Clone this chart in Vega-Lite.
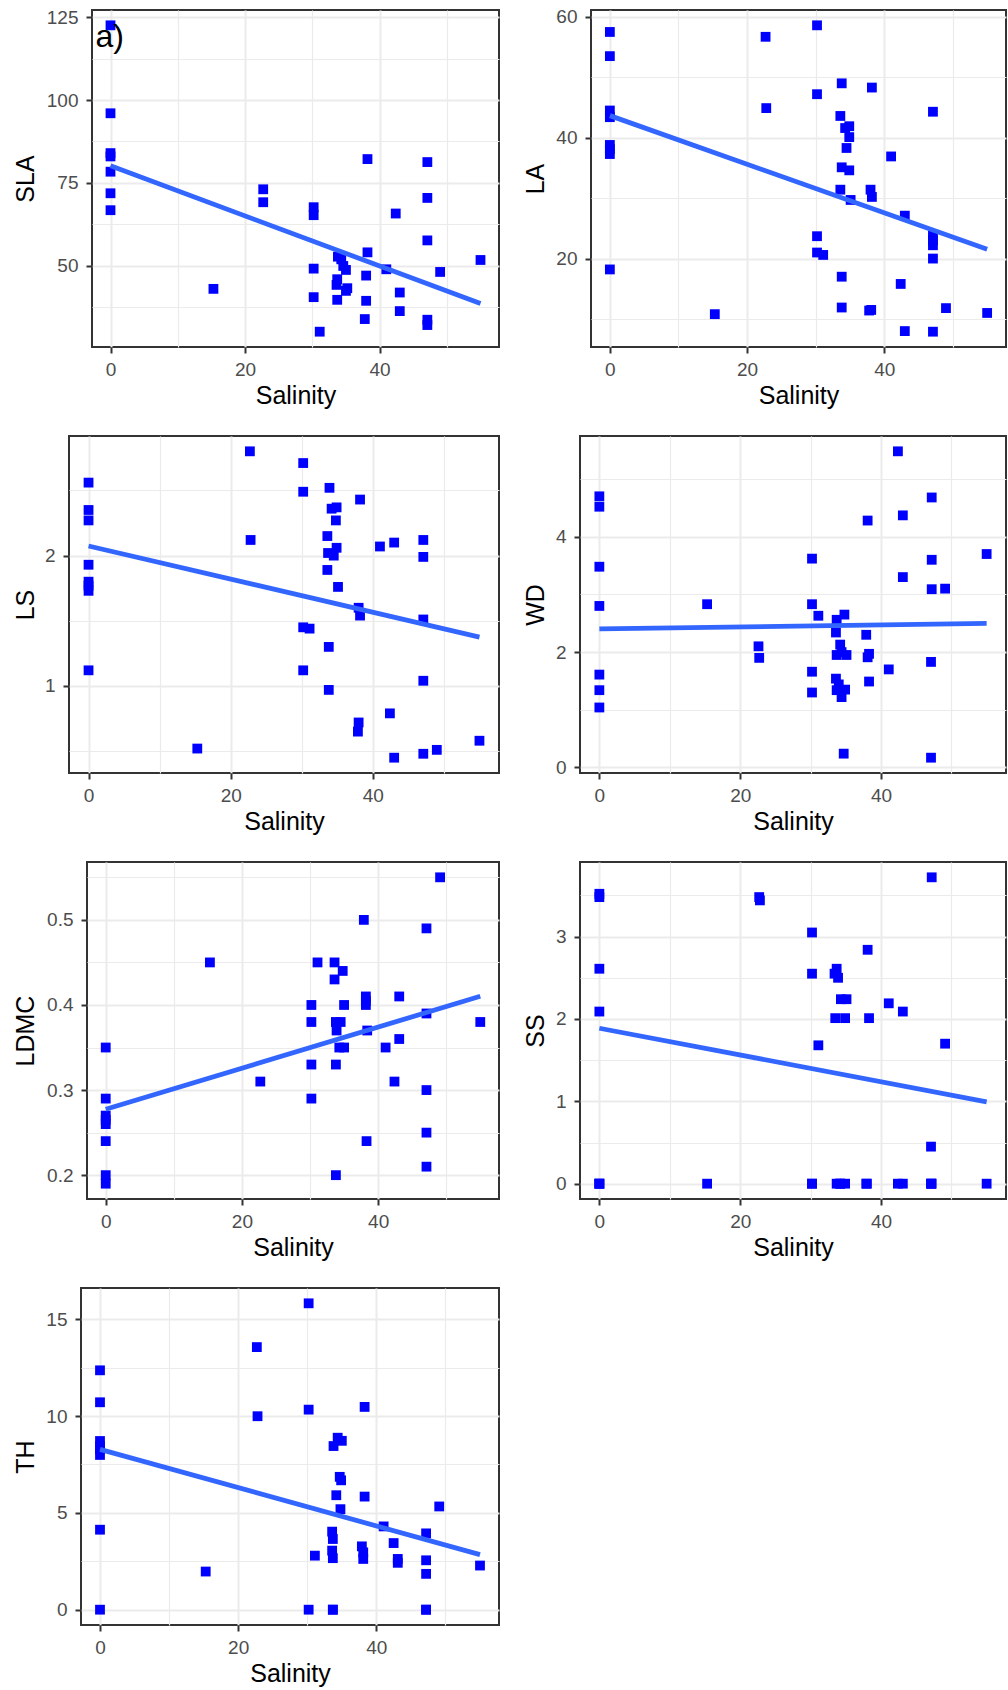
{
  "$schema": "https://vega.github.io/schema/vega-lite/v6.json",
  "padding": {"left": 0, "top": 6, "right": 0, "bottom": 0},
  "background": "white",
  "datasets": {
    "d": [
      {"t":"SLA","s":0,"v":122.5},{"t":"SLA","s":0,"v":96.0},{"t":"SLA","s":0,"v":84.0},{"t":"SLA","s":0,"v":83.0},{"t":"SLA","s":0,"v":78.4},{"t":"SLA","s":0,"v":71.9},{"t":"SLA","s":0,"v":66.8},
      {"t":"SLA","s":15.3,"v":43.1},{"t":"SLA","s":22.7,"v":73.1},{"t":"SLA","s":22.7,"v":69.2},
      {"t":"SLA","s":30.2,"v":67.7},{"t":"SLA","s":30.2,"v":65.3},{"t":"SLA","s":30.2,"v":49.2},{"t":"SLA","s":30.2,"v":40.6},{"t":"SLA","s":31.1,"v":30.2},
      {"t":"SLA","s":33.8,"v":52.8},{"t":"SLA","s":34.3,"v":52.0},{"t":"SLA","s":34.6,"v":50.0},{"t":"SLA","s":35.0,"v":48.8},{"t":"SLA","s":33.7,"v":46.0},{"t":"SLA","s":33.6,"v":44.3},{"t":"SLA","s":35.2,"v":43.3},{"t":"SLA","s":35.0,"v":42.5},{"t":"SLA","s":33.7,"v":39.8},
      {"t":"SLA","s":38.2,"v":82.2},{"t":"SLA","s":38.2,"v":54.1},{"t":"SLA","s":38.0,"v":47.1},{"t":"SLA","s":38.0,"v":39.5},{"t":"SLA","s":37.8,"v":34.0},
      {"t":"SLA","s":41.0,"v":49.0},{"t":"SLA","s":42.4,"v":65.8},{"t":"SLA","s":43.0,"v":42.0},{"t":"SLA","s":43.0,"v":36.4},
      {"t":"SLA","s":47.1,"v":81.3},{"t":"SLA","s":47.1,"v":70.5},{"t":"SLA","s":47.1,"v":57.7},{"t":"SLA","s":47.1,"v":33.8},{"t":"SLA","s":47.1,"v":32.2},
      {"t":"SLA","s":49.0,"v":48.2},{"t":"SLA","s":55.0,"v":51.8},

      {"t":"LA","s":0,"v":57.5},{"t":"LA","s":0,"v":53.5},{"t":"LA","s":0,"v":44.5},{"t":"LA","s":0,"v":43.4},{"t":"LA","s":0,"v":38.8},{"t":"LA","s":0,"v":38.1},{"t":"LA","s":0,"v":37.3},{"t":"LA","s":0,"v":18.2},
      {"t":"LA","s":15.3,"v":10.8},{"t":"LA","s":22.7,"v":56.7},{"t":"LA","s":22.8,"v":44.9},
      {"t":"LA","s":30.2,"v":58.6},{"t":"LA","s":30.2,"v":47.2},{"t":"LA","s":30.2,"v":23.7},{"t":"LA","s":30.2,"v":21.0},{"t":"LA","s":31.1,"v":20.6},
      {"t":"LA","s":33.8,"v":49.0},{"t":"LA","s":33.6,"v":43.6},{"t":"LA","s":34.3,"v":41.6},{"t":"LA","s":34.9,"v":41.9},{"t":"LA","s":34.9,"v":40.1},{"t":"LA","s":34.5,"v":38.3},{"t":"LA","s":33.8,"v":35.1},{"t":"LA","s":34.9,"v":34.6},{"t":"LA","s":33.6,"v":31.4},{"t":"LA","s":35.1,"v":29.7},{"t":"LA","s":33.8,"v":17.0},{"t":"LA","s":33.8,"v":11.9},
      {"t":"LA","s":38.2,"v":48.3},{"t":"LA","s":38.0,"v":31.4},{"t":"LA","s":38.2,"v":30.2},{"t":"LA","s":37.8,"v":11.4},{"t":"LA","s":38.1,"v":11.5},
      {"t":"LA","s":41.0,"v":36.9},{"t":"LA","s":42.4,"v":15.8},{"t":"LA","s":43.0,"v":27.1},{"t":"LA","s":43.0,"v":8.0},
      {"t":"LA","s":47.1,"v":44.3},{"t":"LA","s":47.1,"v":23.8},{"t":"LA","s":47.1,"v":23.0},{"t":"LA","s":47.1,"v":22.2},{"t":"LA","s":47.1,"v":20.0},{"t":"LA","s":47.1,"v":7.9},
      {"t":"LA","s":49.0,"v":11.8},{"t":"LA","s":55.0,"v":11.0},

      {"t":"LS","s":0,"v":2.56},{"t":"LS","s":0,"v":2.35},{"t":"LS","s":0,"v":2.27},{"t":"LS","s":0,"v":1.93},{"t":"LS","s":0,"v":1.80},{"t":"LS","s":0,"v":1.77},{"t":"LS","s":0,"v":1.73},{"t":"LS","s":0,"v":1.12},
      {"t":"LS","s":15.3,"v":0.52},{"t":"LS","s":22.7,"v":2.80},{"t":"LS","s":22.8,"v":2.12},
      {"t":"LS","s":30.2,"v":2.71},{"t":"LS","s":30.2,"v":2.49},{"t":"LS","s":30.2,"v":1.45},{"t":"LS","s":30.2,"v":1.12},{"t":"LS","s":31.1,"v":1.44},
      {"t":"LS","s":33.9,"v":2.52},{"t":"LS","s":34.2,"v":2.36},{"t":"LS","s":34.9,"v":2.37},{"t":"LS","s":34.8,"v":2.27},{"t":"LS","s":33.6,"v":2.15},{"t":"LS","s":34.9,"v":2.06},{"t":"LS","s":33.7,"v":2.02},{"t":"LS","s":34.5,"v":2.00},{"t":"LS","s":33.6,"v":1.89},{"t":"LS","s":35.1,"v":1.76},{"t":"LS","s":33.8,"v":1.30},{"t":"LS","s":33.8,"v":0.97},
      {"t":"LS","s":38.2,"v":2.43},{"t":"LS","s":38.0,"v":1.60},{"t":"LS","s":38.2,"v":1.54},{"t":"LS","s":38.0,"v":0.72},{"t":"LS","s":37.9,"v":0.65},
      {"t":"LS","s":41.0,"v":2.07},{"t":"LS","s":42.4,"v":0.79},{"t":"LS","s":43.0,"v":2.10},{"t":"LS","s":43.0,"v":0.45},
      {"t":"LS","s":47.1,"v":2.12},{"t":"LS","s":47.1,"v":1.99},{"t":"LS","s":47.1,"v":1.51},{"t":"LS","s":47.1,"v":1.04},{"t":"LS","s":47.1,"v":0.48},
      {"t":"LS","s":49.0,"v":0.51},{"t":"LS","s":55.0,"v":0.58},

      {"t":"WD","s":0,"v":4.70},{"t":"WD","s":0,"v":4.52},{"t":"WD","s":0,"v":3.48},{"t":"WD","s":0,"v":2.80},{"t":"WD","s":0,"v":1.61},{"t":"WD","s":0,"v":1.34},{"t":"WD","s":0,"v":1.04},
      {"t":"WD","s":15.3,"v":2.83},{"t":"WD","s":22.6,"v":2.10},{"t":"WD","s":22.7,"v":1.90},
      {"t":"WD","s":30.2,"v":3.62},{"t":"WD","s":30.2,"v":2.83},{"t":"WD","s":30.2,"v":1.66},{"t":"WD","s":30.2,"v":1.30},{"t":"WD","s":31.1,"v":2.63},
      {"t":"WD","s":33.7,"v":2.56},{"t":"WD","s":34.8,"v":2.65},{"t":"WD","s":33.6,"v":2.34},{"t":"WD","s":34.2,"v":2.13},{"t":"WD","s":33.7,"v":1.95},{"t":"WD","s":35.1,"v":1.95},{"t":"WD","s":34.4,"v":2.0},{"t":"WD","s":33.6,"v":1.54},{"t":"WD","s":34.0,"v":1.44},{"t":"WD","s":33.7,"v":1.34},{"t":"WD","s":34.9,"v":1.35},{"t":"WD","s":34.4,"v":1.22},{"t":"WD","s":34.7,"v":0.24},
      {"t":"WD","s":38.1,"v":4.28},{"t":"WD","s":37.9,"v":2.30},{"t":"WD","s":38.3,"v":1.97},{"t":"WD","s":38.1,"v":1.91},{"t":"WD","s":38.3,"v":1.49},
      {"t":"WD","s":41.1,"v":1.70},{"t":"WD","s":42.4,"v":5.48},{"t":"WD","s":43.1,"v":4.37},{"t":"WD","s":43.1,"v":3.30},
      {"t":"WD","s":47.2,"v":4.68},{"t":"WD","s":47.2,"v":3.60},{"t":"WD","s":47.2,"v":3.09},{"t":"WD","s":47.1,"v":1.83},{"t":"WD","s":47.1,"v":0.17},
      {"t":"WD","s":49.1,"v":3.10},{"t":"WD","s":55.0,"v":3.70},

      {"t":"LDMC","s":0,"v":0.35},{"t":"LDMC","s":0,"v":0.29},{"t":"LDMC","s":0,"v":0.27},{"t":"LDMC","s":0,"v":0.265},{"t":"LDMC","s":0,"v":0.26},{"t":"LDMC","s":0,"v":0.24},{"t":"LDMC","s":0,"v":0.20},{"t":"LDMC","s":0,"v":0.19},
      {"t":"LDMC","s":15.3,"v":0.45},{"t":"LDMC","s":22.7,"v":0.31},
      {"t":"LDMC","s":30.2,"v":0.40},{"t":"LDMC","s":30.2,"v":0.38},{"t":"LDMC","s":30.2,"v":0.33},{"t":"LDMC","s":30.2,"v":0.29},{"t":"LDMC","s":31.1,"v":0.45},
      {"t":"LDMC","s":33.6,"v":0.45},{"t":"LDMC","s":33.6,"v":0.43},{"t":"LDMC","s":34.8,"v":0.44},{"t":"LDMC","s":35.0,"v":0.40},{"t":"LDMC","s":33.8,"v":0.38},{"t":"LDMC","s":34.5,"v":0.38},{"t":"LDMC","s":33.9,"v":0.37},{"t":"LDMC","s":34.3,"v":0.35},{"t":"LDMC","s":35.0,"v":0.35},{"t":"LDMC","s":33.8,"v":0.33},{"t":"LDMC","s":33.8,"v":0.20},
      {"t":"LDMC","s":37.9,"v":0.50},{"t":"LDMC","s":38.2,"v":0.41},{"t":"LDMC","s":38.2,"v":0.405},{"t":"LDMC","s":38.2,"v":0.40},{"t":"LDMC","s":38.4,"v":0.37},{"t":"LDMC","s":38.3,"v":0.24},
      {"t":"LDMC","s":41.1,"v":0.35},{"t":"LDMC","s":42.4,"v":0.31},{"t":"LDMC","s":43.1,"v":0.41},{"t":"LDMC","s":43.1,"v":0.36},
      {"t":"LDMC","s":47.1,"v":0.49},{"t":"LDMC","s":47.1,"v":0.39},{"t":"LDMC","s":47.1,"v":0.30},{"t":"LDMC","s":47.1,"v":0.25},{"t":"LDMC","s":47.1,"v":0.21},
      {"t":"LDMC","s":49.1,"v":0.55},{"t":"LDMC","s":55.0,"v":0.38},

      {"t":"SS","s":0,"v":3.52},{"t":"SS","s":0,"v":3.48},{"t":"SS","s":0,"v":2.61},{"t":"SS","s":0,"v":2.09},{"t":"SS","s":0,"v":0},{"t":"SS","s":0,"v":0},{"t":"SS","s":0,"v":0},
      {"t":"SS","s":15.3,"v":0},{"t":"SS","s":22.7,"v":3.48},{"t":"SS","s":22.8,"v":3.44},
      {"t":"SS","s":30.2,"v":3.05},{"t":"SS","s":30.2,"v":2.55},{"t":"SS","s":30.2,"v":0},{"t":"SS","s":30.2,"v":0},{"t":"SS","s":31.1,"v":1.68},
      {"t":"SS","s":33.7,"v":2.61},{"t":"SS","s":33.4,"v":2.55},{"t":"SS","s":33.9,"v":2.50},{"t":"SS","s":34.3,"v":2.24},{"t":"SS","s":35.1,"v":2.24},{"t":"SS","s":33.5,"v":2.01},{"t":"SS","s":34.9,"v":2.01},{"t":"SS","s":33.7,"v":0},{"t":"SS","s":34.2,"v":0},{"t":"SS","s":34.2,"v":0},{"t":"SS","s":34.9,"v":0},
      {"t":"SS","s":38.1,"v":2.84},{"t":"SS","s":38.3,"v":2.01},{"t":"SS","s":37.9,"v":0},{"t":"SS","s":38.0,"v":0},
      {"t":"SS","s":41.1,"v":2.19},{"t":"SS","s":43.1,"v":2.09},{"t":"SS","s":42.4,"v":0},{"t":"SS","s":43.1,"v":0},
      {"t":"SS","s":47.2,"v":3.72},{"t":"SS","s":47.1,"v":0.45},{"t":"SS","s":47.2,"v":0},{"t":"SS","s":47.1,"v":0},{"t":"SS","s":47.1,"v":0},
      {"t":"SS","s":49.1,"v":1.70},{"t":"SS","s":55.0,"v":0},

      {"t":"TH","s":0,"v":12.36},{"t":"TH","s":0,"v":10.71},{"t":"TH","s":0,"v":8.71},{"t":"TH","s":0,"v":8.45},{"t":"TH","s":0,"v":8.28},{"t":"TH","s":0,"v":7.99},{"t":"TH","s":0,"v":4.13},{"t":"TH","s":0,"v":0},
      {"t":"TH","s":15.3,"v":1.97},{"t":"TH","s":22.7,"v":13.56},{"t":"TH","s":22.8,"v":9.99},
      {"t":"TH","s":30.2,"v":15.82},{"t":"TH","s":30.2,"v":10.33},{"t":"TH","s":30.2,"v":0},{"t":"TH","s":31.1,"v":2.79},
      {"t":"TH","s":34.4,"v":8.88},{"t":"TH","s":35.0,"v":8.72},{"t":"TH","s":33.8,"v":8.45},{"t":"TH","s":34.7,"v":6.86},{"t":"TH","s":34.9,"v":6.68},{"t":"TH","s":34.2,"v":5.91},{"t":"TH","s":34.8,"v":5.19},{"t":"TH","s":33.6,"v":4.03},{"t":"TH","s":33.7,"v":3.65},{"t":"TH","s":33.6,"v":3.05},{"t":"TH","s":33.7,"v":2.66},{"t":"TH","s":33.7,"v":0},{"t":"TH","s":33.7,"v":0},
      {"t":"TH","s":38.3,"v":10.47},{"t":"TH","s":38.3,"v":5.84},{"t":"TH","s":37.9,"v":3.27},{"t":"TH","s":38.1,"v":2.96},{"t":"TH","s":38.1,"v":2.62},
      {"t":"TH","s":41.05,"v":4.30},{"t":"TH","s":42.5,"v":3.44},{"t":"TH","s":43.1,"v":2.62},{"t":"TH","s":43.1,"v":2.42},
      {"t":"TH","s":47.2,"v":3.94},{"t":"TH","s":47.2,"v":2.55},{"t":"TH","s":47.2,"v":1.85},{"t":"TH","s":47.2,"v":0},{"t":"TH","s":47.2,"v":0},
      {"t":"TH","s":49.1,"v":5.33},{"t":"TH","s":55.0,"v":2.28}
    ]
  },
  "vconcat": [
    {
      "spacing": 22,
      "hconcat": [
        {
          "spacing": 11,
          "hconcat": [
            {"width": 1, "height": 1, "data": {"values": []}, "mark": "rule", "encoding": {}, "view": {"stroke": null}},
            {
              "width": 407, "height": 337,
              "layer": [
                {
                  "data": {"name": "d"},
                  "transform": [{"filter": "datum.t === 'SLA'"}],
                  "mark": {"type": "point", "shape": "square", "filled": true, "size": 96, "color": "#0000FF", "opacity": 1},
                  "encoding": {
                    "x": {"field": "s", "type": "quantitative", "title": "Salinity", "scale": {"domain": [-2.75, 57.75], "nice": false, "zero": false},
                      "axis": {"values": [0,10,20,30,40,50], "labelExpr": "datum.value % 20 === 0 ? format(datum.value, '.0f') : ''", "tickOpacity": {"condition": {"test": "datum.value % 20 === 0", "value": 1}, "value": 0}, "gridWidth": {"condition": {"test": "datum.value % 20 === 0", "value": 2}, "value": 1.2}}},
                    "y": {"field": "v", "type": "quantitative", "title": "SLA", "scale": {"domain": [25.585, 127.115], "nice": false, "zero": false},
                      "axis": {"values": [37.5,50,62.5,75,87.5,100,112.5,125], "labelExpr": "datum.value % 25 === 0 ? format(datum.value, '.0f') : ''", "tickOpacity": {"condition": {"test": "datum.value % 25 === 0", "value": 1}, "value": 0}, "gridWidth": {"condition": {"test": "datum.value % 25 === 0", "value": 2}, "value": 1.2}, "minExtent": 54, "maxExtent": 54}}
                  }
                },
                {
                  "data": {"name": "d"},
                  "transform": [{"filter": "datum.t === 'SLA'"}, {"regression": "v", "on": "s"}],
                  "mark": {"type": "line", "color": "#3366FF", "strokeWidth": 4.8},
                  "encoding": {"x": {"field": "s", "type": "quantitative", "title": "Salinity"}, "y": {"field": "v", "type": "quantitative", "title": "SLA"}}
                },
                {
                  "data": {"values": [{"lab": "a)"}]},
                  "mark": {"type": "text", "align": "left", "baseline": "alphabetic", "fontSize": 32, "color": "#000000"},
                  "encoding": {"x": {"datum": -2.24}, "y": {"datum": 115.96}, "text": {"field": "lab"}}
                }
              ]
            }
          ]
        },
        {
          "width": 415, "height": 337,
          "layer": [
            {
              "data": {"name": "d"},
              "transform": [{"filter": "datum.t === 'LA'"}],
              "mark": {"type": "point", "shape": "square", "filled": true, "size": 96, "color": "#0000FF", "opacity": 1},
              "encoding": {
                "x": {"field": "s", "type": "quantitative", "title": "Salinity", "scale": {"domain": [-2.75, 57.75], "nice": false, "zero": false},
                  "axis": {"values": [0,10,20,30,40,50], "labelExpr": "datum.value % 20 === 0 ? format(datum.value, '.0f') : ''", "tickOpacity": {"condition": {"test": "datum.value % 20 === 0", "value": 1}, "value": 0}, "gridWidth": {"condition": {"test": "datum.value % 20 === 0", "value": 2}, "value": 1.2}}},
                "y": {"field": "v", "type": "quantitative", "title": "LA", "scale": {"domain": [5.365, 61.135], "nice": false, "zero": false},
                  "axis": {"values": [10,20,30,40,50,60], "labelExpr": "datum.value % 20 === 0 ? format(datum.value, '.0f') : ''", "tickOpacity": {"condition": {"test": "datum.value % 20 === 0", "value": 1}, "value": 0}, "gridWidth": {"condition": {"test": "datum.value % 20 === 0", "value": 2}, "value": 1.2}, "minExtent": 43, "maxExtent": 43}}
              }
            },
            {
              "data": {"name": "d"},
              "transform": [{"filter": "datum.t === 'LA'"}, {"regression": "v", "on": "s"}],
              "mark": {"type": "line", "color": "#3366FF", "strokeWidth": 4.8},
              "encoding": {"x": {"field": "s", "type": "quantitative", "title": "Salinity"}, "y": {"field": "v", "type": "quantitative", "title": "LA"}}
            }
          ]
        }
      ]
    },
    {
      "spacing": 22,
      "hconcat": [
        {
          "spacing": 11,
          "hconcat": [
            {"width": 1, "height": 1, "data": {"values": []}, "mark": "rule", "encoding": {}, "view": {"stroke": null}},
            {
              "width": 430, "height": 337,
              "layer": [
                {
                  "data": {"name": "d"},
                  "transform": [{"filter": "datum.t === 'LS'"}],
                  "mark": {"type": "point", "shape": "square", "filled": true, "size": 96, "color": "#0000FF", "opacity": 1},
                  "encoding": {
                    "x": {"field": "s", "type": "quantitative", "title": "Salinity", "scale": {"domain": [-2.75, 57.75], "nice": false, "zero": false},
                      "axis": {"values": [0,10,20,30,40,50], "labelExpr": "datum.value % 20 === 0 ? format(datum.value, '.0f') : ''", "tickOpacity": {"condition": {"test": "datum.value % 20 === 0", "value": 1}, "value": 0}, "gridWidth": {"condition": {"test": "datum.value % 20 === 0", "value": 2}, "value": 1.2}}},
                    "y": {"field": "v", "type": "quantitative", "title": "LS", "scale": {"domain": [0.3325, 2.9175], "nice": false, "zero": false},
                      "axis": {"values": [0.5,1,1.5,2,2.5], "labelExpr": "datum.value % 1 === 0 ? format(datum.value, '.0f') : ''", "tickOpacity": {"condition": {"test": "datum.value % 1 === 0", "value": 1}, "value": 0}, "gridWidth": {"condition": {"test": "datum.value % 1 === 0", "value": 2}, "value": 1.2}, "minExtent": 31, "maxExtent": 31}}
                  }
                },
                {
                  "data": {"name": "d"},
                  "transform": [{"filter": "datum.t === 'LS'"}, {"regression": "v", "on": "s"}],
                  "mark": {"type": "line", "color": "#3366FF", "strokeWidth": 4.8},
                  "encoding": {"x": {"field": "s", "type": "quantitative", "title": "Salinity"}, "y": {"field": "v", "type": "quantitative", "title": "LS"}}
                }
              ]
            }
          ]
        },
        {
          "width": 426, "height": 337,
          "layer": [
            {
              "data": {"name": "d"},
              "transform": [{"filter": "datum.t === 'WD'"}],
              "mark": {"type": "point", "shape": "square", "filled": true, "size": 96, "color": "#0000FF", "opacity": 1},
              "encoding": {
                "x": {"field": "s", "type": "quantitative", "title": "Salinity", "scale": {"domain": [-2.75, 57.75], "nice": false, "zero": false},
                  "axis": {"values": [0,10,20,30,40,50], "labelExpr": "datum.value % 20 === 0 ? format(datum.value, '.0f') : ''", "tickOpacity": {"condition": {"test": "datum.value % 20 === 0", "value": 1}, "value": 0}, "gridWidth": {"condition": {"test": "datum.value % 20 === 0", "value": 2}, "value": 1.2}}},
                "y": {"field": "v", "type": "quantitative", "title": "WD", "scale": {"domain": [-0.0955, 5.7455], "nice": false, "zero": false},
                  "axis": {"values": [0,1,2,3,4,5], "labelExpr": "datum.value % 2 === 0 ? format(datum.value, '.0f') : ''", "tickOpacity": {"condition": {"test": "datum.value % 2 === 0", "value": 1}, "value": 0}, "gridWidth": {"condition": {"test": "datum.value % 2 === 0", "value": 2}, "value": 1.2}, "minExtent": 32, "maxExtent": 32}}
              }
            },
            {
              "data": {"name": "d"},
              "transform": [{"filter": "datum.t === 'WD'"}, {"regression": "v", "on": "s"}],
              "mark": {"type": "line", "color": "#3366FF", "strokeWidth": 4.8},
              "encoding": {"x": {"field": "s", "type": "quantitative", "title": "Salinity"}, "y": {"field": "v", "type": "quantitative", "title": "WD"}}
            }
          ]
        }
      ]
    },
    {
      "spacing": 22,
      "hconcat": [
        {
          "spacing": 11,
          "hconcat": [
            {"width": 1, "height": 1, "data": {"values": []}, "mark": "rule", "encoding": {}, "view": {"stroke": null}},
            {
              "width": 412, "height": 337,
              "layer": [
                {
                  "data": {"name": "d"},
                  "transform": [{"filter": "datum.t === 'LDMC'"}],
                  "mark": {"type": "point", "shape": "square", "filled": true, "size": 96, "color": "#0000FF", "opacity": 1},
                  "encoding": {
                    "x": {"field": "s", "type": "quantitative", "title": "Salinity", "scale": {"domain": [-2.75, 57.75], "nice": false, "zero": false},
                      "axis": {"values": [0,10,20,30,40,50], "labelExpr": "datum.value % 20 === 0 ? format(datum.value, '.0f') : ''", "tickOpacity": {"condition": {"test": "datum.value % 20 === 0", "value": 1}, "value": 0}, "gridWidth": {"condition": {"test": "datum.value % 20 === 0", "value": 2}, "value": 1.2}}},
                    "y": {"field": "v", "type": "quantitative", "title": "LDMC", "scale": {"domain": [0.172, 0.568], "nice": false, "zero": false},
                      "axis": {"values": [0.2,0.25,0.3,0.35,0.4,0.45,0.5,0.55], "labelExpr": "abs(datum.value*10 - round(datum.value*10)) < 0.001 ? format(datum.value, '.1f') : ''", "tickOpacity": {"condition": {"test": "abs(datum.value*10 - round(datum.value*10)) < 0.001", "value": 1}, "value": 0}, "gridWidth": {"condition": {"test": "abs(datum.value*10 - round(datum.value*10)) < 0.001", "value": 2}, "value": 1.2}, "minExtent": 49, "maxExtent": 49}}
                  }
                },
                {
                  "data": {"name": "d"},
                  "transform": [{"filter": "datum.t === 'LDMC'"}, {"regression": "v", "on": "s"}],
                  "mark": {"type": "line", "color": "#3366FF", "strokeWidth": 4.8},
                  "encoding": {"x": {"field": "s", "type": "quantitative", "title": "Salinity"}, "y": {"field": "v", "type": "quantitative", "title": "LDMC"}}
                }
              ]
            }
          ]
        },
        {
          "width": 426, "height": 337,
          "layer": [
            {
              "data": {"name": "d"},
              "transform": [{"filter": "datum.t === 'SS'"}],
              "mark": {"type": "point", "shape": "square", "filled": true, "size": 96, "color": "#0000FF", "opacity": 1},
              "encoding": {
                "x": {"field": "s", "type": "quantitative", "title": "Salinity", "scale": {"domain": [-2.75, 57.75], "nice": false, "zero": false},
                  "axis": {"values": [0,10,20,30,40,50], "labelExpr": "datum.value % 20 === 0 ? format(datum.value, '.0f') : ''", "tickOpacity": {"condition": {"test": "datum.value % 20 === 0", "value": 1}, "value": 0}, "gridWidth": {"condition": {"test": "datum.value % 20 === 0", "value": 2}, "value": 1.2}}},
                "y": {"field": "v", "type": "quantitative", "title": "SS", "scale": {"domain": [-0.186, 3.906], "nice": false, "zero": false},
                  "axis": {"values": [0,0.5,1,1.5,2,2.5,3,3.5], "labelExpr": "datum.value % 1 === 0 ? format(datum.value, '.0f') : ''", "tickOpacity": {"condition": {"test": "datum.value % 1 === 0", "value": 1}, "value": 0}, "gridWidth": {"condition": {"test": "datum.value % 1 === 0", "value": 2}, "value": 1.2}, "minExtent": 32, "maxExtent": 32}}
              }
            },
            {
              "data": {"name": "d"},
              "transform": [{"filter": "datum.t === 'SS'"}, {"regression": "v", "on": "s"}],
              "mark": {"type": "line", "color": "#3366FF", "strokeWidth": 4.8},
              "encoding": {"x": {"field": "s", "type": "quantitative", "title": "Salinity"}, "y": {"field": "v", "type": "quantitative", "title": "SS"}}
            }
          ]
        }
      ]
    },
    {
      "spacing": 11,
      "hconcat": [
        {"width": 1, "height": 1, "data": {"values": []}, "mark": "rule", "encoding": {}, "view": {"stroke": null}},
        {
          "width": 418, "height": 337,
          "layer": [
            {
              "data": {"name": "d"},
              "transform": [{"filter": "datum.t === 'TH'"}],
              "mark": {"type": "point", "shape": "square", "filled": true, "size": 96, "color": "#0000FF", "opacity": 1},
              "encoding": {
                "x": {"field": "s", "type": "quantitative", "title": "Salinity", "scale": {"domain": [-2.75, 57.75], "nice": false, "zero": false},
                  "axis": {"values": [0,10,20,30,40,50], "labelExpr": "datum.value % 20 === 0 ? format(datum.value, '.0f') : ''", "tickOpacity": {"condition": {"test": "datum.value % 20 === 0", "value": 1}, "value": 0}, "gridWidth": {"condition": {"test": "datum.value % 20 === 0", "value": 2}, "value": 1.2}}},
                "y": {"field": "v", "type": "quantitative", "title": "TH", "scale": {"domain": [-0.791, 16.611], "nice": false, "zero": false},
                  "axis": {"values": [0,2.5,5,7.5,10,12.5,15], "labelExpr": "datum.value % 5 === 0 ? format(datum.value, '.0f') : ''", "tickOpacity": {"condition": {"test": "datum.value % 5 === 0", "value": 1}, "value": 0}, "gridWidth": {"condition": {"test": "datum.value % 5 === 0", "value": 2}, "value": 1.2}, "minExtent": 43, "maxExtent": 43}}
              }
            },
            {
              "data": {"name": "d"},
              "transform": [{"filter": "datum.t === 'TH'"}, {"regression": "v", "on": "s"}],
              "mark": {"type": "line", "color": "#3366FF", "strokeWidth": 4.8},
              "encoding": {"x": {"field": "s", "type": "quantitative", "title": "Salinity"}, "y": {"field": "v", "type": "quantitative", "title": "TH"}}
            }
          ]
        }
      ]
    }
  ],
  "spacing": 25,
  "config": {
    "font": "Liberation Sans",
    "view": {"stroke": "#333333", "strokeWidth": 2},
    "axis": {
      "labelFontSize": 19, "labelColor": "#4D4D4D", "labelFont": "Liberation Sans",
      "titleFontSize": 25, "titleFontWeight": "normal", "titleColor": "#000000", "titleFont": "Liberation Sans",
      "tickColor": "#333333", "tickWidth": 2, "tickSize": 6, "domain": false,
      "gridColor": "#EBEBEB"
    },
    "axisX": {"labelPadding": 7.3, "titlePadding": 3.8},
    "axisY": {"labelPadding": 8, "titlePadding": 0}
  }
}
